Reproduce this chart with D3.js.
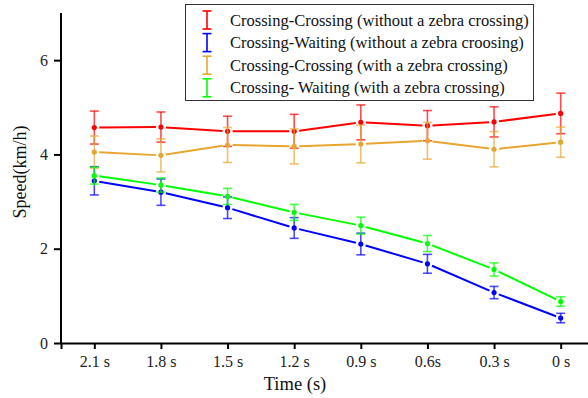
<!DOCTYPE html>
<html>
<head>
<meta charset="utf-8">
<script src="https://cdn.jsdelivr.net/npm/d3@7/dist/d3.min.js"></script>
<style>
  html, body { margin: 0; padding: 0; background: #fff; }
  svg { display: block; font-family: "Liberation Serif", "Times New Roman", serif; }
</style>
</head>
<body>
<svg id="chart" width="588" height="398"></svg>
<script>
// Time before arrival (categories on the x axis)
const times = ["2.1 s", "1.8 s", "1.5 s", "1.2 s", "0.9 s", "0.6s", "0.3 s", "0 s"];
const yTicks = [0, 2, 4, 6];

// Mean speeds (km/h) and error half-widths for each scenario
const ccNoZebra = [4.57, 4.58, 4.49, 4.49, 4.68, 4.61, 4.69, 4.87];
const ccNoZebraErr = [0.35, 0.32, 0.32, 0.36, 0.37, 0.32, 0.32, 0.43];
const cwNoZebra = [3.44, 3.20, 2.87, 2.44, 2.10, 1.68, 1.07, 0.53];
const cwNoZebraErr = [0.30, 0.28, 0.23, 0.22, 0.23, 0.20, 0.13, 0.10];
const ccZebra = [4.05, 3.98, 4.20, 4.17, 4.22, 4.29, 4.11, 4.26];
const ccZebraErr = [0.34, 0.35, 0.37, 0.37, 0.40, 0.39, 0.375, 0.32];
const cwZebra = [3.55, 3.35, 3.11, 2.77, 2.49, 2.11, 1.56, 0.88];
const cwZebraErr = [0.18, 0.15, 0.17, 0.17, 0.18, 0.17, 0.14, 0.10];

const seriesNames = [
  "Crossing-Crossing (without a zebra crossing)",
  "Crossing-Waiting (without a zebra croosing)",
  "Crossing-Crossing (with a zebra crossing)",
  "Crossing- Waiting (with a zebra crossing)"
];
const seriesColors = ["#ff0000", "#0000ff", "#e8a630", "#00ff00"];

const series = [
  { name: seriesNames[0], color: seriesColors[0], values: ccNoZebra, err: ccNoZebraErr },
  { name: seriesNames[1], color: seriesColors[1], values: cwNoZebra, err: cwNoZebraErr },
  { name: seriesNames[2], color: seriesColors[2], values: ccZebra, err: ccZebraErr },
  { name: seriesNames[3], color: seriesColors[3], values: cwZebra, err: cwZebraErr }
];

const svg = d3.select("#chart");
const plotLeft = 61, plotRight = 594, plotTop = 13, plotBottom = 343;
const serif = "Liberation Serif, Times New Roman, serif";

const x = d3.scalePoint().domain(times).range([plotLeft, plotRight]).padding(0.5);
const y = d3.scaleLinear().domain([0, 7]).range([plotBottom, plotTop]);

// Axes
const xAxis = svg.append("g").attr("transform", `translate(0,${plotBottom})`)
  .call(d3.axisBottom(x).tickSizeOuter(0).tickSize(6).tickPadding(7));
const yAxis = svg.append("g").attr("transform", `translate(${plotLeft},0)`)
  .call(d3.axisLeft(y).tickValues(yTicks).tickFormat(d3.format("d")).tickSizeOuter(0).tickSize(7).tickPadding(6));

[xAxis, yAxis].forEach(g => {
  g.attr("font-family", serif).attr("font-size", 16);
  g.select(".domain").attr("stroke", "#000").attr("stroke-width", 2);
  g.selectAll(".tick line").attr("stroke", "#000").attr("stroke-width", 2);
  g.selectAll(".tick text").attr("fill", "#222");
});
// y axis line spans the full plot height
yAxis.select(".domain").attr("d", `M0,${plotBottom}V${plotTop}`);

svg.append("text")
  .attr("x", 295).attr("y", 390)
  .attr("text-anchor", "middle")
  .attr("font-family", serif).attr("font-size", 18.5).attr("fill", "#111")
  .text("Time (s)");

svg.append("text")
  .attr("transform", `translate(26,172) rotate(-90)`)
  .attr("text-anchor", "middle")
  .attr("font-family", serif).attr("font-size", 18).attr("fill", "#111")
  .text("Speed(km/h)");

// Series: error bars, broken connecting segments, point markers
const gap = 5;
series.forEach(s => {
  const g = svg.append("g");
  const pts = s.values.map((v, i) => ({ cx: x(times[i]), cy: y(v), v, e: s.err[i] }));

  // error bars
  pts.forEach(p => {
    const y1 = y(p.v + p.e), y2 = y(p.v - p.e);
    const eb = g.append("g").attr("stroke", s.color).attr("stroke-width", 1.6).attr("stroke-opacity", 0.7);
    eb.append("line").attr("x1", p.cx).attr("x2", p.cx).attr("y1", y1).attr("y2", y2);
    eb.append("line").attr("x1", p.cx - 4.5).attr("x2", p.cx + 4.5).attr("y1", y1).attr("y2", y1);
    eb.append("line").attr("x1", p.cx - 4.5).attr("x2", p.cx + 4.5).attr("y1", y2).attr("y2", y2);
  });

  // connecting segments, stopping short of each marker
  for (let i = 0; i < pts.length - 1; i++) {
    const a = pts[i], b = pts[i + 1];
    const dx = b.cx - a.cx, dy = b.cy - a.cy, len = Math.hypot(dx, dy);
    const ux = dx / len, uy = dy / len;
    g.append("line")
      .attr("x1", a.cx + ux * gap).attr("y1", a.cy + uy * gap)
      .attr("x2", b.cx - ux * gap).attr("y2", b.cy - uy * gap)
      .attr("stroke", s.color).attr("stroke-width", 2);
  }

  g.selectAll("circle").data(pts).join("circle")
    .attr("cx", d => d.cx).attr("cy", d => d.cy).attr("r", 2.6)
    .attr("fill", s.color);
});

// Legend
const legend = svg.append("g").attr("font-family", serif);
legend.append("rect")
  .attr("x", 185.5).attr("y", 4.5).attr("width", 348).attr("height", 96)
  .attr("fill", "#fff").attr("stroke", "#333").attr("stroke-width", 1);
series.forEach((s, i) => {
  const cy = 20 + i * 22.6;
  const ic = legend.append("g").attr("stroke", s.color).attr("stroke-width", 1.6);
  ic.append("line").attr("x1", 207).attr("x2", 207).attr("y1", cy - 9).attr("y2", cy + 9);
  ic.append("line").attr("x1", 202.5).attr("x2", 211.5).attr("y1", cy - 9).attr("y2", cy - 9);
  ic.append("line").attr("x1", 202.5).attr("x2", 211.5).attr("y1", cy + 9).attr("y2", cy + 9);
  legend.append("text")
    .attr("x", 230).attr("y", cy + 5.5)
    .attr("font-size", 16.5).attr("fill", "#111")
    .text(s.name);
});
</script>
</body>
</html>
